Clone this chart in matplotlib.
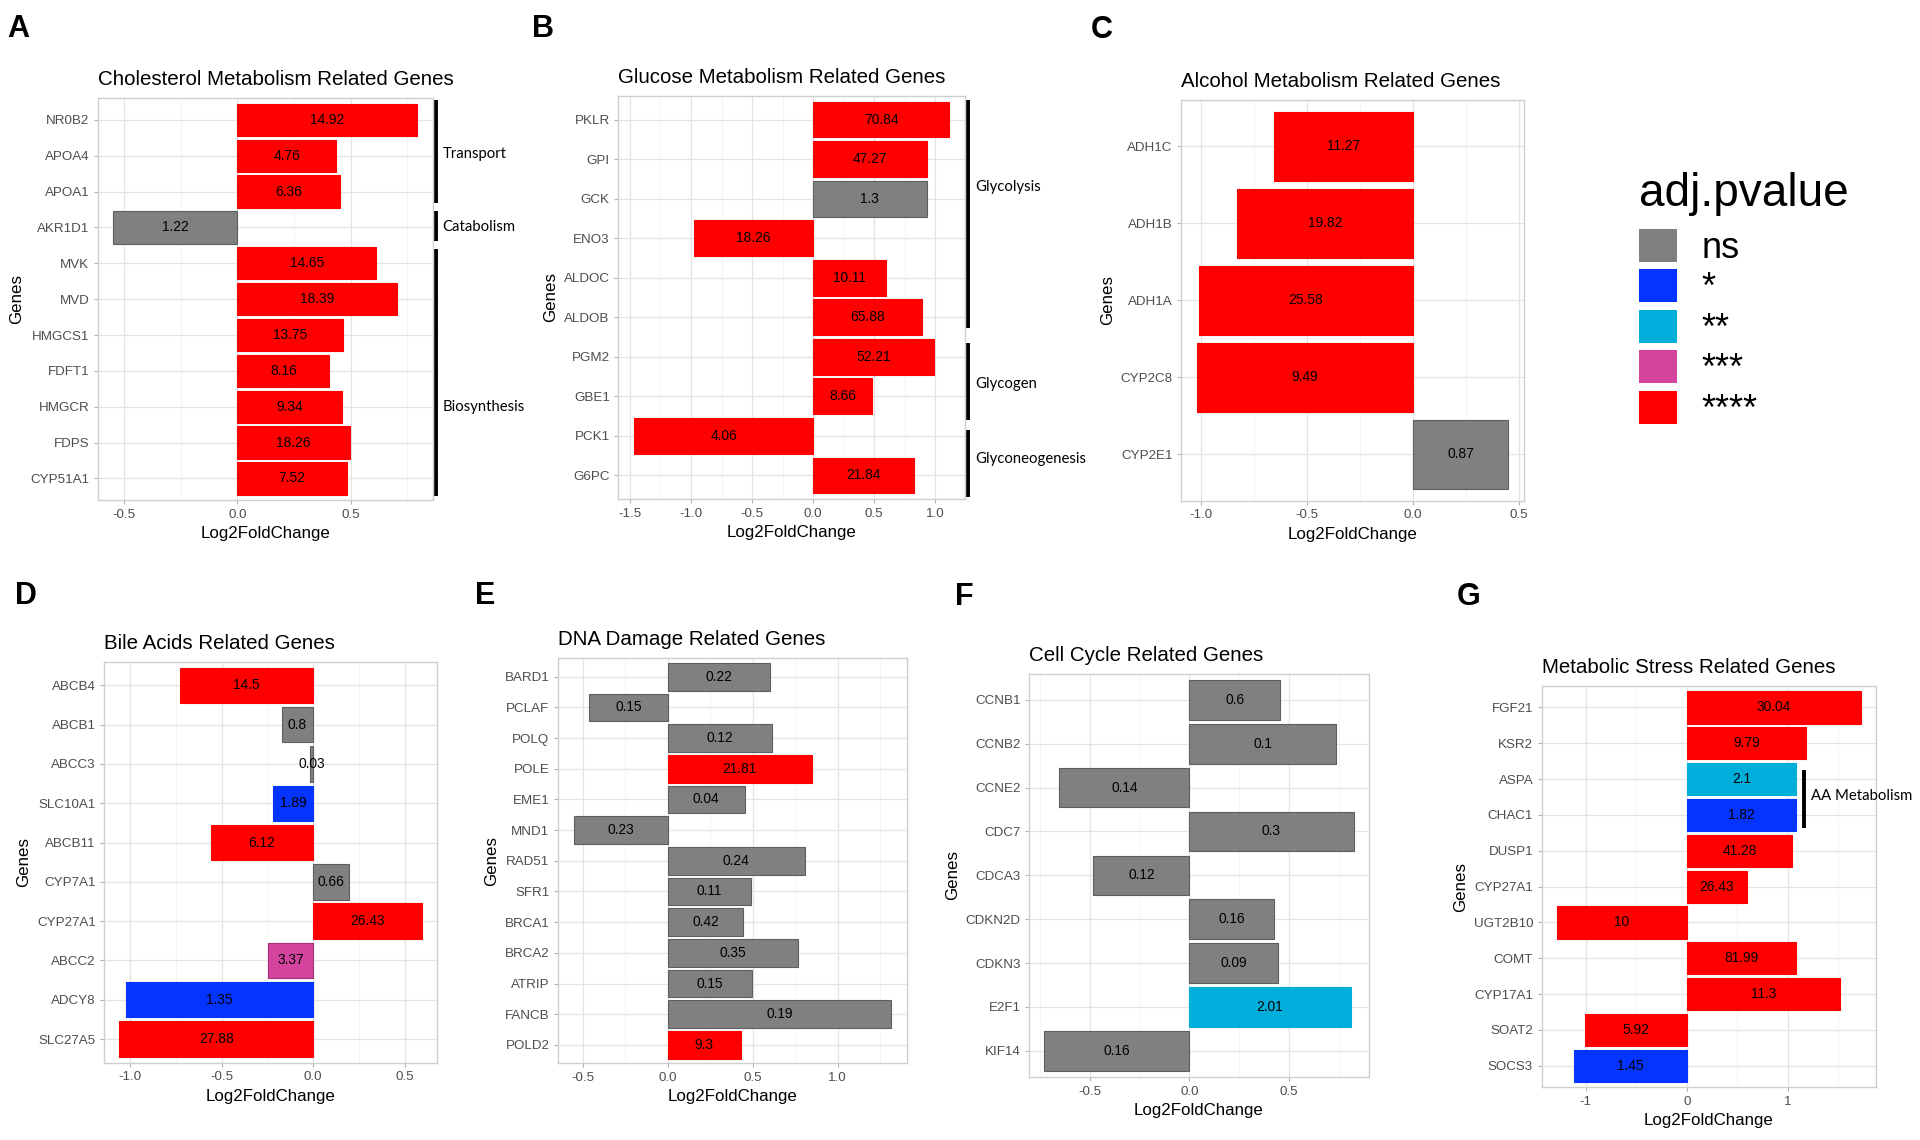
import matplotlib
matplotlib.use("Agg")
import matplotlib.pyplot as plt
from matplotlib.patches import Patch
import matplotlib.transforms as mtransforms

plt.rcParams['font.family'] = ['Liberation Sans', 'DejaVu Sans']

# ---------------- data ----------------
SIG_LEVELS = ["ns", "*", "**", "***", "****"]
SIG_COLORS = ["#808080", "#0533FF", "#00AEDB", "#D4449E", "#FF0000"]
SIG_EDGES = ["#5E5E5E", "#0533FF", "#00AEDB", "#A8307A", "#FF0000"]

A_title = "Cholesterol Metabolism Related Genes"
A_genes = ["NR0B2", "APOA4", "APOA1", "AKR1D1", "MVK", "MVD", "HMGCS1", "FDFT1", "HMGCR", "FDPS", "CYP51A1"]
A_lfc = [0.795, 0.436, 0.455, -0.549, 0.613, 0.703, 0.467, 0.406, 0.464, 0.496, 0.484]
A_val = [14.92, 4.76, 6.36, 1.22, 14.65, 18.39, 13.75, 8.16, 9.34, 18.26, 7.52]
A_sig = ["****", "****", "****", "ns", "****", "****", "****", "****", "****", "****", "****"]
A_ticks = [-0.5, 0.0, 0.5]
A_ticklabels = ["-0.5", "0.0", "0.5"]
A_groups = [("Transport", "NR0B2", "APOA1"), ("Catabolism", "AKR1D1", "AKR1D1"),
            ("Biosynthesis", "MVK", "CYP51A1")]

B_title = "Glucose Metabolism Related Genes"
B_genes = ["PKLR", "GPI", "GCK", "ENO3", "ALDOC", "ALDOB", "PGM2", "GBE1", "PCK1", "G6PC"]
B_lfc = [1.114, 0.929, 0.929, -0.978, 0.594, 0.891, 0.986, 0.480, -1.466, 0.823]
B_val = [70.84, 47.27, 1.3, 18.26, 10.11, 65.88, 52.21, 8.66, 4.06, 21.84]
B_sig = ["****", "****", "ns", "****", "****", "****", "****", "****", "****", "****"]
B_ticks = [-1.5, -1.0, -0.5, 0.0, 0.5, 1.0]
B_ticklabels = ["-1.5", "-1.0", "-0.5", "0.0", "0.5", "1.0"]
B_groups = [("Glycolysis", "PKLR", "ALDOB"), ("Glycogen", "PGM2", "GBE1"),
            ("Glyconeogenesis", "PCK1", "G6PC")]

C_title = "Alcohol Metabolism Related Genes"
C_genes = ["ADH1C", "ADH1B", "ADH1A", "CYP2C8", "CYP2E1"]
C_lfc = [-0.656, -0.831, -1.011, -1.022, 0.450]
C_val = [11.27, 19.82, 25.58, 9.49, 0.87]
C_sig = ["****", "****", "****", "****", "ns"]
C_ticks = [-1.0, -0.5, 0.0, 0.5]
C_ticklabels = ["-1.0", "-0.5", "0.0", "0.5"]

D_title = "Bile Acids Related Genes"
D_genes = ["ABCB4", "ABCB1", "ABCC3", "SLC10A1", "ABCB11", "CYP7A1", "CYP27A1", "ABCC2", "ADCY8", "SLC27A5"]
D_lfc = [-0.727, -0.173, -0.02, -0.218, -0.56, 0.196, 0.595, -0.245, -1.024, -1.058]
D_val = [14.5, 0.8, 0.03, 1.89, 6.12, 0.66, 26.43, 3.37, 1.35, 27.88]
D_sig = ["****", "ns", "ns", "*", "****", "ns", "****", "***", "*", "****"]
D_ticks = [-1.0, -0.5, 0.0, 0.5]
D_ticklabels = ["-1.0", "-0.5", "0.0", "0.5"]

E_title = "DNA Damage Related Genes"
E_genes = ["BARD1", "PCLAF", "POLQ", "POLE", "EME1", "MND1", "RAD51", "SFR1", "BRCA1", "BRCA2", "ATRIP", "FANCB", "POLD2"]
E_lfc = [0.60, -0.461, 0.616, 0.847, 0.455, -0.551, 0.808, 0.488, 0.445, 0.769, 0.498, 1.314, 0.429]
E_val = [0.22, 0.15, 0.12, 21.81, 0.04, 0.23, 0.24, 0.11, 0.42, 0.35, 0.15, 0.19, 9.3]
E_sig = ["ns", "ns", "ns", "****", "ns", "ns", "ns", "ns", "ns", "ns", "ns", "ns", "****"]
E_ticks = [-0.5, 0.0, 0.5, 1.0]
E_ticklabels = ["-0.5", "0.0", "0.5", "1.0"]

F_title = "Cell Cycle Related Genes"
F_genes = ["CCNB1", "CCNB2", "CCNE2", "CDC7", "CDCA3", "CDKN2D", "CDKN3", "E2F1", "KIF14"]
F_lfc = [0.456, 0.738, -0.653, 0.824, -0.483, 0.424, 0.446, 0.809, -0.728]
F_val = [0.6, 0.1, 0.14, 0.3, 0.12, 0.16, 0.09, 2.01, 0.16]
F_sig = ["ns", "ns", "ns", "ns", "ns", "ns", "ns", "**", "ns"]
F_ticks = [-0.5, 0.0, 0.5]
F_ticklabels = ["-0.5", "0.0", "0.5"]

G_title = "Metabolic Stress Related Genes"
G_genes = ["FGF21", "KSR2", "ASPA", "CHAC1", "DUSP1", "CYP27A1", "UGT2B10", "COMT", "CYP17A1", "SOAT2", "SOCS3"]
G_lfc = [1.719, 1.18, 1.081, 1.084, 1.045, 0.592, -1.286, 1.081, 1.514, -1.005, -1.117]
G_val = [30.04, 9.79, 2.1, 1.82, 41.28, 26.43, 10, 81.99, 11.3, 5.92, 1.45]
G_sig = ["****", "****", "**", "*", "****", "****", "****", "****", "****", "****", "*"]
G_ticks = [-1, 0, 1]
G_ticklabels = ["-1", "0", "1"]
G_groups = [("AA Metabolism", "ASPA", "CHAC1")]

# ---------------- layout (pixels of the 1920x1140 canvas) ----------------
W, H = 1920, 1140
fig = plt.figure(figsize=(W / 100, H / 100), dpi=100)

BOX = {
    "A": (97.7, 98.3, 432.7, 500.0),
    "B": (618.3, 96.0, 965.0, 499.0),
    "C": (1181.0, 100.1, 1524.0, 500.5),
    "D": (104.3, 661.7, 437.3, 1062.7),
    "E": (558.0, 658.3, 907.0, 1063.3),
    "F": (1029.0, 673.6, 1369.0, 1077.1),
    "G": (1541.7, 686.0, 1875.7, 1087.3),
}
LETTER_POS = {"A": (7, 36.7), "B": (531.7, 36.7), "C": (1090.7, 38.2), "D": (15, 604.5),
              "E": (475, 604.5), "F": (955, 605), "G": (1456.7, 605)}
# bracket extension (rows above first / below last gene) and label shift (rows)
A_group_style = [(0.54, 0.32, -0.06), (0.46, 0.37, 0.0), (0.40, 0.48, 1.0)]
B_group_style = [(0.50, 0.28, -0.8), (0.36, 0.59, 0.2), (0.14, 0.54, 0.1)]
G_group_style = [(0.26, 0.37, -0.04)]

TICK_COLOR = "#4D4D4D"
GROUP_FONT = ["Lato", "DejaVu Sans"]


def px_axes(left, top, right, bottom):
    return fig.add_axes([left / W, 1 - bottom / H, (right - left) / W, (bottom - top) / H])


def draw_panel(ax, title, genes, lfc, vals, sig, ticks, ticklabels):
    n = len(genes)
    pos = list(range(n))
    colors = [SIG_COLORS[SIG_LEVELS.index(s)] for s in sig]
    edges = [SIG_EDGES[SIG_LEVELS.index(s)] for s in sig]
    bars = ax.barh(pos, lfc, height=0.9, color=colors, edgecolor=edges, linewidth=0.8, zorder=2)
    ax.bar_label(bars, labels=[f"{v:g}" for v in vals], label_type="center",
                 fontsize=9.9, color="black", zorder=3)
    lo, hi = min(min(lfc), 0), max(max(lfc), 0)
    span = hi - lo
    ax.set_xlim(lo - 0.05 * span, hi + 0.05 * span)
    ax.set_ylim(n - 1 + 0.6, -0.6)
    ax.set_yticks(pos, genes)
    ax.set_xticks(ticks, ticklabels)
    step = ticks[1] - ticks[0]
    xl = ax.get_xlim()
    minors = [t + step / 2 for t in [ticks[0] - step] + list(ticks)]
    ax.set_xticks([m for m in minors if xl[0] < m < xl[1]], minor=True)
    ax.tick_params(axis="both", which="major", length=2.75, width=0.8, color="#B3B3B3",
                   labelcolor=TICK_COLOR, labelsize=9.6, pad=3.4)
    ax.tick_params(axis="x", which="minor", length=0)
    ax.grid(which="major", color="#E4E4E4", linewidth=0.9)
    ax.grid(which="minor", axis="x", color="#F0F0F0", linewidth=0.5)
    ax.set_axisbelow(True)
    for sp in ax.spines.values():
        sp.set_color("#CFCFCF")
        sp.set_linewidth(1.0)
    ax.set_xlabel("Log2FoldChange", fontsize=12.2, color="black", labelpad=4)
    ax.set_ylabel("Genes", fontsize=12.2, color="black", labelpad=4)
    ax.set_title(title, loc="left", fontsize=14.8, color="black", pad=9.4)


def draw_groups(ax, genes, groups, styles, x, x_is_axes):
    if x_is_axes:
        trans = mtransforms.blended_transform_factory(ax.transAxes, ax.transData)
    else:
        trans = ax.transData
    txt_trans = mtransforms.offset_copy(trans, fig=fig, x=5, y=0, units="points")
    for (name, g0, g1), (up, down, shift) in zip(groups, styles):
        i0, i1 = genes.index(g0), genes.index(g1)
        ax.plot([x, x], [i0 - up, i1 + down], color="black", lw=2.8,
                transform=trans, clip_on=False, solid_capstyle="butt")
        ax.text(x, (i0 + i1) / 2 + shift, name, transform=txt_trans, ha="left", va="center",
                fontsize=10.7, family=GROUP_FONT, color="black", clip_on=False)


axA = px_axes(*BOX["A"])
draw_panel(axA, A_title, A_genes, A_lfc, A_val, A_sig, A_ticks, A_ticklabels)
draw_groups(axA, A_genes, A_groups, A_group_style, 1 + 3 / (BOX["A"][2] - BOX["A"][0]), True)

axB = px_axes(*BOX["B"])
draw_panel(axB, B_title, B_genes, B_lfc, B_val, B_sig, B_ticks, B_ticklabels)
draw_groups(axB, B_genes, B_groups, B_group_style, 1 + 3.3 / (BOX["B"][2] - BOX["B"][0]), True)

axC = px_axes(*BOX["C"])
draw_panel(axC, C_title, C_genes, C_lfc, C_val, C_sig, C_ticks, C_ticklabels)

axD = px_axes(*BOX["D"])
draw_panel(axD, D_title, D_genes, D_lfc, D_val, D_sig, D_ticks, D_ticklabels)

axE = px_axes(*BOX["E"])
draw_panel(axE, E_title, E_genes, E_lfc, E_val, E_sig, E_ticks, E_ticklabels)

axF = px_axes(*BOX["F"])
draw_panel(axF, F_title, F_genes, F_lfc, F_val, F_sig, F_ticks, F_ticklabels)

axG = px_axes(*BOX["G"])
draw_panel(axG, G_title, G_genes, G_lfc, G_val, G_sig, G_ticks, G_ticklabels)
g_x = max(G_lfc[G_genes.index(g)] for g in ("ASPA", "CHAC1")) + 0.073
draw_groups(axG, G_genes, G_groups, G_group_style, g_x, False)

# panel letters
for letter, (x, y) in LETTER_POS.items():
    fig.text(x / W, 1 - y / H, letter, fontsize=22, fontweight="bold",
             ha="left", va="baseline", color="black")

# legend
fig.text(1639 / W, 1 - 205.7 / H, "adj.pvalue", fontsize=33, color="black",
         ha="left", va="baseline")
handles = [Patch(facecolor=c, edgecolor="none", label=l) for l, c in zip(SIG_LEVELS, SIG_COLORS)]
leg = fig.legend(handles=handles, loc="upper left", bbox_to_anchor=(1639 / W, 1 - 229 / H),
                 frameon=False, fontsize=26,
                 handlelength=1.05, handleheight=1.03, labelspacing=0.1, handletextpad=0.69,
                 borderpad=0, borderaxespad=0)

fig.savefig("out.png", dpi=100, facecolor="white")
